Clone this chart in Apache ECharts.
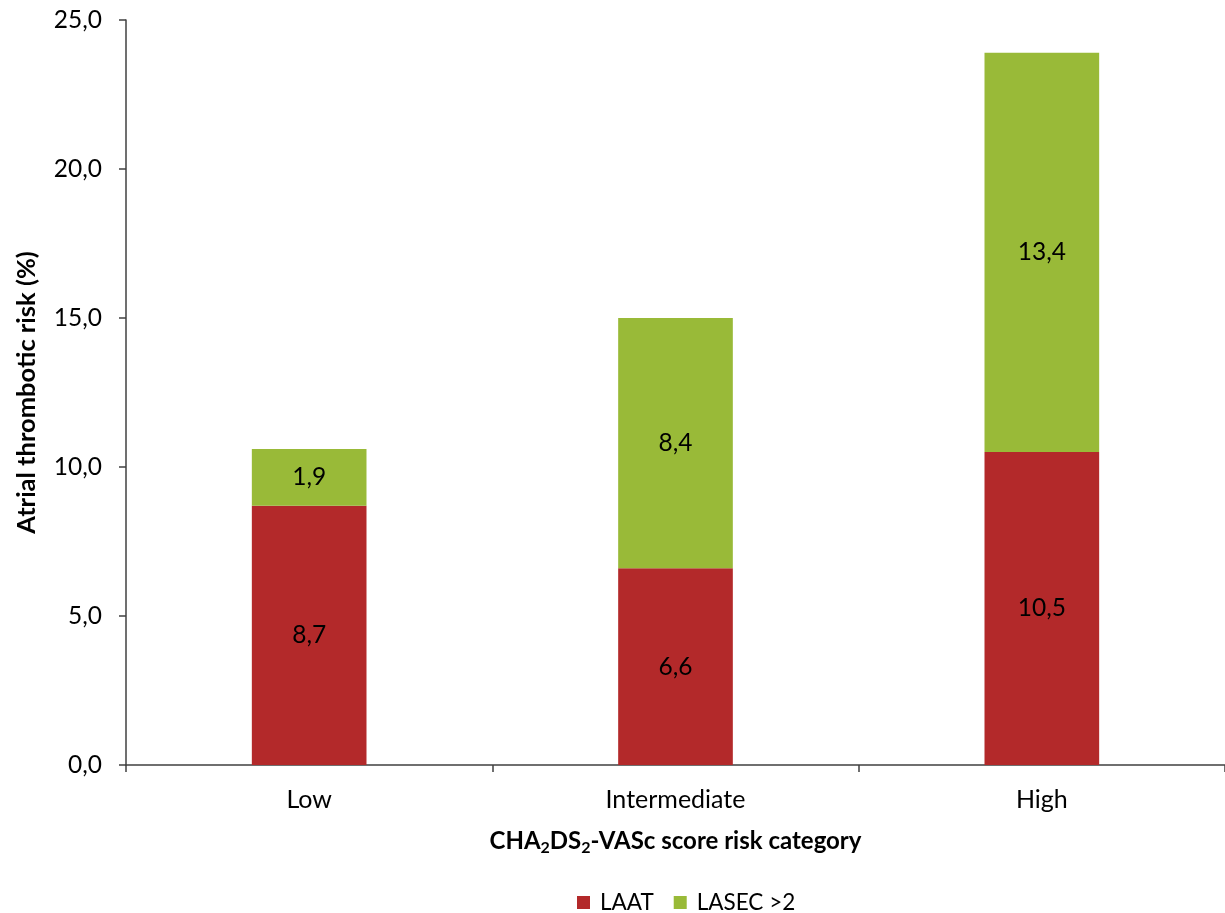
<!DOCTYPE html>
<html>
<head>
<meta charset="utf-8">
<title>Atrial thrombotic risk by CHA2DS2-VASc category</title>
<script src="https://cdn.jsdelivr.net/npm/echarts@6/dist/echarts.min.js"></script>
<style>
  html, body { margin: 0; padding: 0; background: #ffffff; }
  #chart { width: 1225px; height: 913px; }
</style>
</head>
<body>
<div id="chart"></div>
<script>
// Risk categories and stacked percentages
const categories = ['Low', 'Intermediate', 'High'];
const laat = [8.7, 6.6, 10.5];
const lasec = [1.9, 8.4, 13.4];
const seriesNames = ['LAAT', 'LASEC >2'];
const yTicks = { min: 0, max: 25, interval: 5 };

const FONT = 'Lato';
const RED = '#B3292A';
const GREEN = '#99BA38';
const AXIS = '#404040';

const fmt = v => v.toFixed(1).replace('.', ',');

const chart = echarts.init(document.getElementById('chart'), null, { renderer: 'canvas' });

const labelStyle = {
  show: true,
  position: 'inside',
  color: '#000',
  fontFamily: FONT,
  fontSize: 24.5,
  formatter: p => fmt(p.value)
};

chart.setOption({
  backgroundColor: '#ffffff',
  animation: false,
  textStyle: { fontFamily: FONT },
  grid: { left: 126, right: -2, top: 20, bottom: 148, containLabel: false },
  legend: {
    top: 886,
    left: 572,
    itemWidth: 13,
    itemHeight: 13,
    itemGap: 20,
    icon: 'rect',
    textStyle: { fontFamily: FONT, fontSize: 22.5, color: '#000', padding: [0, 0, 0, 5] },
    data: seriesNames
  },
  xAxis: {
    type: 'category',
    data: categories,
    axisLine: { lineStyle: { color: AXIS, width: 1.5 } },
    axisTick: { show: true, length: 7, lineStyle: { color: AXIS, width: 1.5 } },
    axisLabel: { color: '#000', fontFamily: FONT, fontSize: 25, margin: 22 },
    name: '{b|CHA}{s|2}{b|DS}{s|2}{b|-VASc score risk category}',
    nameLocation: 'middle',
    nameGap: 62,
    nameTextStyle: {
      rich: {
        b: { fontFamily: FONT, fontSize: 24, fontWeight: 'bold', color: '#000', lineHeight: 28 },
        s: { fontFamily: FONT, fontSize: 16, fontWeight: 'bold', color: '#000', lineHeight: 28, padding: [13, 0, 0, 0] }
      }
    }
  },
  yAxis: {
    type: 'value',
    min: yTicks.min,
    max: yTicks.max,
    interval: yTicks.interval,
    splitLine: { show: false },
    axisLine: { show: true, lineStyle: { color: AXIS, width: 1.5 } },
    axisTick: { show: true, length: 7, lineStyle: { color: AXIS, width: 1.5 } },
    axisLabel: { color: '#000', fontFamily: FONT, fontSize: 24.5, margin: 24, formatter: v => fmt(v) },
    name: 'Atrial thrombotic risk (%)',
    nameLocation: 'middle',
    nameGap: 86,
    nameTextStyle: { fontFamily: FONT, fontSize: 25.5, fontWeight: 'bold', color: '#000' }
  },
  series: [
    {
      name: seriesNames[0],
      type: 'bar',
      stack: 'risk',
      barWidth: '31.3%',
      itemStyle: { color: RED },
      label: labelStyle,
      data: laat
    },
    {
      name: seriesNames[1],
      type: 'bar',
      stack: 'risk',
      barWidth: '31.3%',
      itemStyle: { color: GREEN },
      label: labelStyle,
      data: lasec
    }
  ]
});
</script>
</body>
</html>
